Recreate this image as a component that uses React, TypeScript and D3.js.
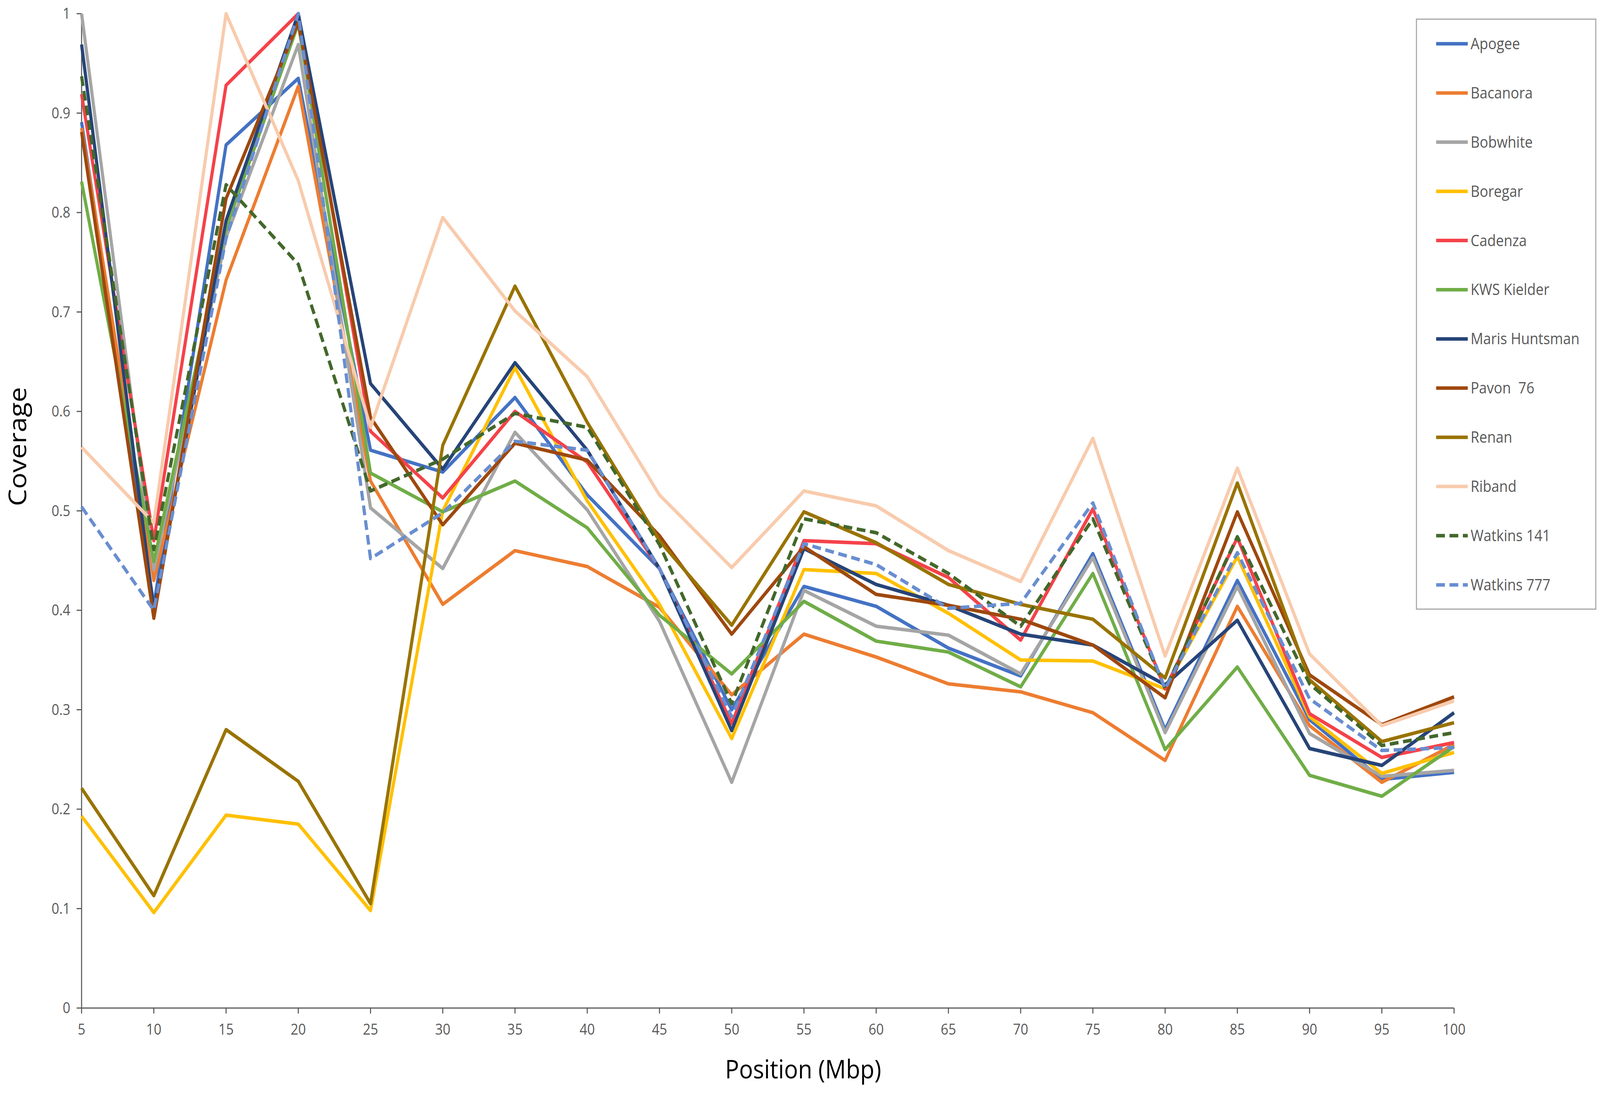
import * as d3 from 'd3'

// positions along the chromosome (Mbp)
const positions = [5, 10, 15, 20, 25, 30, 35, 40, 45, 50, 55, 60, 65, 70, 75, 80, 85, 90, 95, 100]
const yTicks = [0, 0.1, 0.2, 0.3, 0.4, 0.5, 0.6, 0.7, 0.8, 0.9, 1]

const apogee = [0.891, 0.405, 0.868, 0.935, 0.561, 0.539, 0.614, 0.516, 0.442, 0.3, 0.424, 0.404, 0.362, 0.334, 0.457, 0.28, 0.43, 0.29, 0.23, 0.237]
const bacanora = [0.885, 0.43, 0.732, 0.927, 0.53, 0.406, 0.46, 0.444, 0.403, 0.315, 0.376, 0.353, 0.326, 0.318, 0.297, 0.249, 0.404, 0.284, 0.227, 0.265]
const bobwhite = [1.0, 0.441, 0.775, 0.969, 0.503, 0.442, 0.579, 0.501, 0.389, 0.227, 0.42, 0.384, 0.375, 0.336, 0.453, 0.277, 0.424, 0.276, 0.233, 0.239]
const boregar = [0.193, 0.096, 0.194, 0.185, 0.098, 0.5, 0.644, 0.51, 0.406, 0.271, 0.441, 0.437, 0.397, 0.35, 0.349, 0.321, 0.454, 0.293, 0.236, 0.257]
const cadenza = [0.919, 0.47, 0.928, 1.0, 0.58, 0.513, 0.6, 0.549, 0.442, 0.286, 0.47, 0.467, 0.433, 0.37, 0.502, 0.321, 0.473, 0.296, 0.252, 0.267]
const kwsKielder = [0.831, 0.449, 0.784, 0.99, 0.538, 0.499, 0.53, 0.483, 0.395, 0.336, 0.409, 0.369, 0.358, 0.323, 0.437, 0.26, 0.343, 0.234, 0.213, 0.263]
const marisHuntsman = [0.969, 0.4, 0.792, 1.0, 0.628, 0.542, 0.649, 0.561, 0.442, 0.279, 0.462, 0.426, 0.405, 0.376, 0.365, 0.325, 0.39, 0.261, 0.244, 0.297]
const pavon76 = [0.881, 0.392, 0.814, 0.991, 0.594, 0.486, 0.568, 0.551, 0.475, 0.376, 0.464, 0.416, 0.405, 0.391, 0.365, 0.312, 0.499, 0.335, 0.285, 0.313]
const renan = [0.221, 0.113, 0.28, 0.228, 0.105, 0.566, 0.726, 0.589, 0.47, 0.385, 0.499, 0.468, 0.426, 0.406, 0.391, 0.332, 0.528, 0.33, 0.268, 0.287]
const riband = [0.564, 0.488, 1.0, 0.832, 0.584, 0.795, 0.701, 0.635, 0.516, 0.443, 0.52, 0.505, 0.46, 0.429, 0.573, 0.354, 0.543, 0.356, 0.284, 0.309]
const watkins141 = [0.937, 0.461, 0.828, 0.748, 0.52, 0.552, 0.598, 0.584, 0.466, 0.306, 0.492, 0.478, 0.437, 0.384, 0.492, 0.321, 0.474, 0.326, 0.264, 0.277]
const watkins777 = [0.504, 0.4, 0.774, 1.0, 0.452, 0.498, 0.57, 0.561, 0.442, 0.293, 0.467, 0.446, 0.402, 0.407, 0.508, 0.321, 0.458, 0.311, 0.259, 0.262]

interface Series {
    name: string
    values: number[]
    color: string
    dashed?: boolean
}

const series: Series[] = [
    { name: 'Apogee', values: apogee, color: '#4472C4' },
    { name: 'Bacanora', values: bacanora, color: '#ED7D31' },
    { name: 'Bobwhite', values: bobwhite, color: '#A5A5A5' },
    { name: 'Boregar', values: boregar, color: '#FFC000' },
    { name: 'Cadenza', values: cadenza, color: '#F5424A' },
    { name: 'KWS Kielder', values: kwsKielder, color: '#70AD47' },
    { name: 'Maris Huntsman', values: marisHuntsman, color: '#264478' },
    { name: 'Pavon  76', values: pavon76, color: '#9E480E' },
    { name: 'Renan', values: renan, color: '#997300' },
    { name: 'Riband', values: riband, color: '#F8CBAD' },
    { name: 'Watkins 141', values: watkins141, color: '#43682B', dashed: true },
    { name: 'Watkins 777', values: watkins777, color: '#698ED0', dashed: true },
]

// drawing is laid out on the reference's 4550x2800 grid and stretched to the viewport
const W = 4550, H = 2800
const plot = { left: 232, right: 4135, top: 35, bottom: 2580 }
const font = "'Open Sans', 'Noto Sans', sans-serif"
const axisColor = '#595959'
const lineW = 9
const dash = '25,13'

export default function App() {
    const x = d3.scaleLinear().domain([5, 100]).range([plot.left, plot.right])
    const y = d3.scaleLinear().domain([0, 1]).range([plot.bottom, plot.top])
    const line = d3.line<number>()
        .x((_, i) => x(positions[i]))
        .y(d => y(d))

    const legend = { x: 4028, y: 49, w: 510, h: 1510, rowTop: 112, rowStep: 125.9 }

    return <div style={{ position: 'absolute', left: 0, top: 0, width: '100vw', height: '100vh' }}>
        <svg width="100%" height="100%" viewBox={`0 0 ${W} ${H}`} preserveAspectRatio="none"
            style={{ display: 'block', background: '#fff' }}>
            {/* y axis */}
            <line x1={plot.left} x2={plot.left} y1={plot.top} y2={plot.bottom} stroke={axisColor} strokeWidth={3} />
            {yTicks.map(t => <g key={'y' + t}>
                <line x1={plot.left - 14} x2={plot.left} y1={y(t)} y2={y(t)} stroke={axisColor} strokeWidth={3} />
                <text x={plot.left - 32} y={y(t)} dy="0.35em" textAnchor="end" fontFamily={font} fontSize={38} fill={axisColor}>{t}</text>
            </g>)}
            {/* x axis */}
            <line x1={plot.left} x2={plot.right} y1={plot.bottom} y2={plot.bottom} stroke={axisColor} strokeWidth={3} />
            {positions.map(p => <g key={'x' + p}>
                <line x1={x(p)} x2={x(p)} y1={plot.bottom} y2={plot.bottom + 14} stroke={axisColor} strokeWidth={3} />
                <text x={x(p)} y={plot.bottom + 68} textAnchor="middle" fontFamily={font} fontSize={38} fill={axisColor}>{p}</text>
            </g>)}

            <text transform={`translate(74,1143) rotate(-90)`} textAnchor="middle" fontFamily={font} fontSize={70} fill="#000">Coverage</text>
            <text x={2284} y={2760} textAnchor="middle" fontFamily={font} fontSize={66} fill="#000">Position (Mbp)</text>

            {/* lines */}
            {series.map(s => <path key={s.name} d={line(s.values) || ''} fill="none" stroke={s.color}
                strokeWidth={lineW} strokeLinejoin="round" strokeDasharray={s.dashed ? dash : undefined} />)}

            {/* legend */}
            <rect x={legend.x} y={legend.y} width={legend.w} height={legend.h} fill="#fff" stroke="#A6A6A6" strokeWidth={3} />
            {series.map((s, i) => {
                const cy = legend.rowTop + i * legend.rowStep
                return <g key={'lg' + s.name}>
                    <line x1={4084} x2={4174} y1={cy} y2={cy} stroke={s.color} strokeWidth={lineW}
                        strokeDasharray={s.dashed ? dash : undefined} />
                    <text x={4182} y={cy} dy="0.35em" fontFamily={font} fontSize={40} fill={axisColor} style={{ whiteSpace: 'pre' }}>{s.name}</text>
                </g>
            })}
        </svg>
    </div>
}
